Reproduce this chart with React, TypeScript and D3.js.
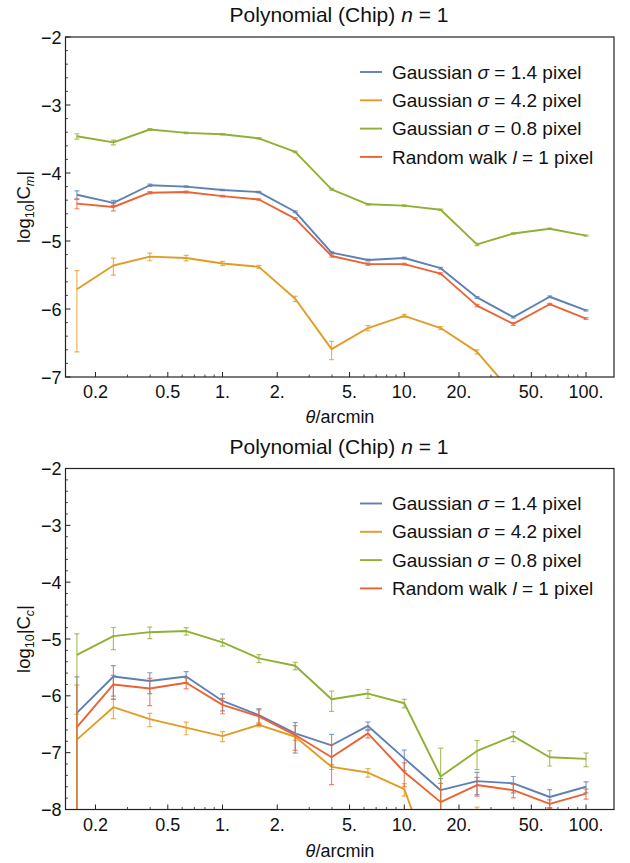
import React from "react";
import * as d3 from "d3";

// Angular separations (arcmin) of the correlation bins
const theta = [0.158, 0.251, 0.398, 0.631, 1.0, 1.585, 2.512, 3.981, 6.31, 10.0, 15.85, 25.12, 39.81, 63.1, 100.0];

// Series labels (name, italic symbol, rest)
const seriesNames = [
  ["Gaussian ", "σ", " = 1.4 pixel"],
  ["Gaussian ", "σ", " = 4.2 pixel"],
  ["Gaussian ", "σ", " = 0.8 pixel"],
  ["Random walk ", "l", " = 1 pixel"],
];
const seriesColors = ["#5E81B5", "#E19C24", "#8FB032", "#EB6235"];

// log10|C_m| and relative errors (dC/C)
const blueM = [-4.32, -4.44, -4.18, -4.2, -4.25, -4.28, -4.57, -5.17, -5.28, -5.25, -5.4, -5.83, -6.12, -5.82, -6.02];
const blueMErr = [0.14, 0.09, 0.035, 0.03, 0.025, 0.025, 0.03, 0.03, 0.03, 0.03, 0.03, 0.03, 0.03, 0.03, 0.025];
const orangeM = [-5.71, -5.36, -5.23, -5.25, -5.33, -5.38, -5.85, -6.59, -6.28, -6.1, -6.28, -6.63, -7.25];
const orangeMErr = [0.88, 0.28, 0.13, 0.09, 0.07, 0.05, 0.09, 0.3, 0.09, 0.05, 0.05, 0.07, 0.08];
const greenM = [-3.46, -3.55, -3.36, -3.41, -3.43, -3.49, -3.69, -4.24, -4.46, -4.48, -4.54, -5.05, -4.89, -4.82, -4.92];
const greenMErr = [0.09, 0.08, 0.03, 0.025, 0.025, 0.025, 0.025, 0.03, 0.025, 0.025, 0.025, 0.04, 0.025, 0.02, 0.02];
const redM = [-4.45, -4.5, -4.29, -4.28, -4.34, -4.39, -4.67, -5.22, -5.34, -5.34, -5.48, -5.95, -6.22, -5.93, -6.14];
const redMErr = [0.16, 0.12, 0.04, 0.03, 0.025, 0.025, 0.03, 0.04, 0.04, 0.03, 0.03, 0.04, 0.05, 0.03, 0.03];

// log10|C_c| and relative errors (dC/C)
const blueC = [-6.3, -5.66, -5.74, -5.66, -6.09, -6.34, -6.66, -6.87, -6.53, -7.1, -7.66, -7.5, -7.54, -7.78, -7.6];
const blueCErr = [3.3, 0.55, 0.4, 0.22, 0.33, 0.3, 0.55, 0.55, 0.17, 0.4, 0.6, 0.42, 0.32, 0.35, 0.22];
const orangeC = [-6.77, -6.2, -6.41, -6.56, -6.71, -6.51, -6.72, -7.25, -7.35, -7.64, -9.4, -8.12];
const orangeCErr = [1.8, 0.37, 0.26, 0.25, 0.2, 0.08, 0.14, 0.1, 0.17, 0.25, 0.3, 0.45];
const greenC = [-5.28, -4.95, -4.88, -4.86, -5.06, -5.34, -5.47, -6.06, -5.96, -6.13, -7.42, -6.97, -6.71, -7.08, -7.11];
const greenCErr = [1.34, 0.42, 0.23, 0.15, 0.14, 0.16, 0.15, 0.39, 0.18, 0.17, 2.16, 0.53, 0.2, 0.3, 0.27];
const redC = [-6.55, -5.8, -5.87, -5.77, -6.16, -6.36, -6.69, -7.08, -6.66, -7.34, -7.87, -7.57, -7.66, -7.9, -7.72];
const redCErr = [4.5, 0.45, 0.5, 0.22, 0.3, 0.3, 0.46, 0.67, 0.17, 0.45, 1.13, 0.36, 0.27, 0.17, 0.2];

// Axis ticks
const xMajorTicks = [0.2, 0.5, 1, 2, 5, 10, 20, 50, 100];
const xMajorLabels = ["0.2", "0.5", "1.", "2.", "5.", "10.", "20.", "50.", "100."];
const xMinorTicks = [0.3, 0.4, 0.6, 0.7, 0.8, 0.9, 3, 4, 6, 7, 8, 9, 30, 40, 60, 70, 80, 90];

const FONT = "'Liberation Sans', Arial, sans-serif";
const LEFT = 65.5;
const RIGHT = 614;

const xScale = d3.scaleLog().domain([0.1368, 142.5]).range([LEFT, RIGHT]);

type Series = { values: number[]; errs: number[] };

function Panel({
  id,
  top,
  bottom,
  yMin,
  subscript,
  series,
  titleY,
  xLabelY,
}: {
  id: string;
  top: number;
  bottom: number;
  yMin: number;
  subscript: string;
  series: Series[];
  titleY: number;
  xLabelY: number;
}) {
  const y = d3.scaleLinear().domain([yMin, -2]).range([bottom, top]);
  const line = d3
    .line<number>()
    .x((_, i) => xScale(theta[i]))
    .y((v) => y(v));
  const majorY = d3.range(yMin, -1.999, 1);
  const minorY = d3.range(yMin, -2.0001, 0.2).filter((v) => Math.abs(v - Math.round(v)) > 0.01);
  const clipId = `clip-${id}`;
  const legendX = 360;
  const legendY0 = top + 35;

  return (
    <g>
      <defs>
        <clipPath id={clipId}>
          <rect x={LEFT} y={top} width={RIGHT - LEFT} height={bottom - top} />
        </clipPath>
      </defs>
      <text x={339} y={titleY} fontSize={21} textAnchor="middle" fontFamily={FONT} fill="#111">
        Polynomial (Chip) <tspan fontStyle="italic">n</tspan> = 1
      </text>

      <g clipPath={`url(#${clipId})`}>
        {series.map((s, si) => {
          const col = seriesColors[si];
          return (
            <g key={si}>
              {s.values.map((v, i) => {
                const cx = xScale(theta[i]);
                const r = s.errs[i];
                const hiY = y(v + Math.log10(1 + r));
                const loY = r < 1 ? y(v + Math.log10(1 - r)) : bottom + 20;
                return (
                  <g key={i} stroke={col} strokeOpacity={0.75} strokeWidth={1.2}>
                    <line x1={cx} x2={cx} y1={hiY} y2={loY} />
                    <line x1={cx - 2.5} x2={cx + 2.5} y1={hiY} y2={hiY} />
                    <line x1={cx - 2.5} x2={cx + 2.5} y1={loY} y2={loY} />
                  </g>
                );
              })}
              <path d={line(s.values) || ""} fill="none" stroke={col} strokeWidth={1.9} strokeLinejoin="round" />
            </g>
          );
        })}
      </g>

      {/* frame */}
      <rect x={LEFT} y={top} width={RIGHT - LEFT} height={bottom - top} fill="none" stroke="#222" strokeWidth={1.2} />

      {/* y ticks */}
      {majorY.map((v) => (
        <g key={`ym${v}`}>
          <line x1={LEFT} x2={LEFT + 5} y1={y(v)} y2={y(v)} stroke="#222" strokeWidth={1} />
          <text x={LEFT - 4} y={y(v) + 6.5} fontSize={18} textAnchor="end" fontFamily={FONT} fill="#111">
            {"\u2212" + Math.abs(v)}
          </text>
        </g>
      ))}
      {minorY.map((v) => (
        <line key={`yn${v}`} x1={LEFT} x2={LEFT + 2.5} y1={y(v)} y2={y(v)} stroke="#222" strokeWidth={0.8} />
      ))}

      {/* x ticks */}
      {xMajorTicks.map((t, i) => (
        <g key={`xm${t}`}>
          <line x1={xScale(t)} x2={xScale(t)} y1={bottom} y2={bottom - 5} stroke="#222" strokeWidth={1} />
          <text x={xScale(t)} y={bottom + 21} fontSize={18} textAnchor="middle" fontFamily={FONT} fill="#111">
            {xMajorLabels[i]}
          </text>
        </g>
      ))}
      {xMinorTicks.map((t) => (
        <line key={`xn${t}`} x1={xScale(t)} x2={xScale(t)} y1={bottom} y2={bottom - 2.5} stroke="#222" strokeWidth={0.8} />
      ))}

      {/* axis labels */}
      <text x={340} y={xLabelY} fontSize={18} textAnchor="middle" fontFamily={FONT} fill="#111">
        <tspan fontStyle="italic">θ</tspan>/arcmin
      </text>
      <text
        transform={`translate(30, ${(top + bottom) / 2}) rotate(-90)`}
        fontSize={18.5}
        textAnchor="middle"
        fontFamily={FONT}
        fill="#111"
      >
        log
        <tspan fontSize={12.5} dy={4}>
          10
        </tspan>
        <tspan dy={-4}>|C</tspan>
        <tspan fontSize={12.5} dy={4} fontStyle="italic">
          {subscript}
        </tspan>
        <tspan dy={-4}>|</tspan>
      </text>

      {/* legend */}
      {seriesNames.map((nm, i) => {
        const ly = legendY0 + i * 28.3;
        return (
          <g key={`lg${i}`}>
            <line x1={legendX} x2={legendX + 22} y1={ly} y2={ly} stroke={seriesColors[i]} strokeWidth={1.9} />
            <text x={legendX + 32} y={ly + 6.6} fontSize={19} fontFamily={FONT} fill="#111">
              {nm[0]}
              <tspan fontStyle="italic">{nm[1]}</tspan>
              {nm[2]}
            </text>
          </g>
        );
      })}
    </g>
  );
}

export default function App() {
  const topSeries: Series[] = [
    { values: blueM, errs: blueMErr },
    { values: orangeM, errs: orangeMErr },
    { values: greenM, errs: greenMErr },
    { values: redM, errs: redMErr },
  ];
  const bottomSeries: Series[] = [
    { values: blueC, errs: blueCErr },
    { values: orangeC, errs: orangeCErr },
    { values: greenC, errs: greenCErr },
    { values: redC, errs: redCErr },
  ];
  return (
    <svg
      width={630}
      height={863}
      style={{ position: "absolute", left: 0, top: 0, background: "#fff" }}
    >
      <rect width={630} height={863} fill="#fff" />
      <Panel id="m" top={37} bottom={377} yMin={-7} subscript="m" series={topSeries} titleY={22} xLabelY={423} />
      <Panel id="c" top={468.5} bottom={809.5} yMin={-8} subscript="c" series={bottomSeries} titleY={454} xLabelY={857} />
    </svg>
  );
}
